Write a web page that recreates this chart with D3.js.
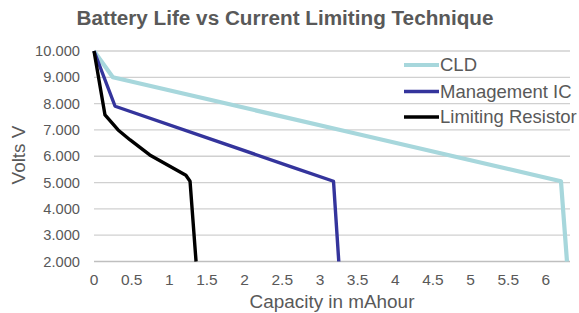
<!DOCTYPE html>
<html>
<head>
<meta charset="utf-8">
<script src="https://cdn.jsdelivr.net/npm/d3@7"></script>
<style>
  body { margin: 0; background: #fff; }
  svg { display: block; font-family: "Liberation Sans", Arial, sans-serif; }
</style>
</head>
<body>
<svg id="chart" width="579" height="313"></svg>
<script>
const seriesNames = ["CLD", "Management IC", "Limiting Resistor"];
const seriesColors = ["#A7D7DC", "#34349C", "#000000"];
const cldX = [0, 0.25, 3.27, 6.2, 6.28];
const cldY = [10, 9.0, 7.0, 5.05, 2.0];
const icX = [0, 0.28, 2.64, 3.18, 3.25];
const icY = [10, 7.9, 5.58, 5.05, 2.0];
const resX = [0, 0.146, 0.32, 0.48, 0.74, 1.22, 1.275, 1.355];
const resY = [10, 7.57, 7.0, 6.62, 6.05, 5.28, 5.05, 2.0];
const yTicks = [2, 3, 4, 5, 6, 7, 8, 9, 10];
const xTicks = [0, 0.5, 1, 1.5, 2, 2.5, 3, 3.5, 4, 4.5, 5, 5.5, 6];
const xMax = 6.32;
const titleText = "Battery Life vs Current Limiting Technique";
const xTitle = "Capacity in mAhour";
const yTitle = "Volts V";

const svg = d3.select("#chart");
const pLeft = 94, pRight = 570, pTop = 51, pBottom = 261.5;
const x = d3.scaleLinear().domain([0, xMax]).range([pLeft, pRight]);
const y = d3.scaleLinear().domain([2, 10]).range([pBottom, pTop]);
const textColor = "#595959";

// gridlines
svg.append("g").selectAll("line").data(yTicks.filter(d => d !== 2)).join("line")
  .attr("x1", pLeft).attr("x2", pRight)
  .attr("y1", d => y(d)).attr("y2", d => y(d))
  .attr("stroke", "#D0D0D0").attr("stroke-width", 1.3);

// x axis line
svg.append("line").attr("x1", pLeft).attr("x2", pRight)
  .attr("y1", y(2)).attr("y2", y(2))
  .attr("stroke", "#BFBFBF").attr("stroke-width", 1.3);

// y tick labels
svg.append("g").selectAll("text").data(yTicks).join("text")
  .attr("x", 80).attr("y", d => y(d)).attr("dy", "0.35em")
  .attr("text-anchor", "end").attr("font-size", 14.7).attr("fill", textColor)
  .text(d => d3.format(".3f")(d));

// x tick labels
svg.append("g").selectAll("text").data(xTicks).join("text")
  .attr("x", d => x(d)).attr("y", 280).attr("dy", "0.35em")
  .attr("text-anchor", "middle").attr("font-size", 15.5).attr("fill", textColor)
  .text(d => String(d));

// series
const series = [
  {xs: cldX, ys: cldY, w: 4.2},
  {xs: icX, ys: icY, w: 3.4},
  {xs: resX, ys: resY, w: 3.4}
];
const line = d3.line().x(d => x(d[0])).y(d => y(d[1]));
series.forEach((s, i) => {
  const pts = s.xs.map((v, j) => [v, s.ys[j]]);
  svg.append("path").datum(pts).attr("d", line)
    .attr("fill", "none").attr("stroke", seriesColors[i])
    .attr("stroke-width", s.w).attr("stroke-linejoin", "round");
});

// legend
const legY = [65, 91.5, 117];
const leg = svg.append("g");
seriesNames.forEach((n, i) => {
  leg.append("line").attr("x1", 404).attr("x2", 439)
    .attr("y1", legY[i]).attr("y2", legY[i])
    .attr("stroke", seriesColors[i]).attr("stroke-width", i === 0 ? 4 : 3.4);
  leg.append("text").attr("x", 440).attr("y", legY[i]).attr("dy", "0.35em")
    .attr("font-size", 18.5).attr("fill", textColor).text(n);
});

// titles
svg.append("text").attr("x", 285).attr("y", 18).attr("dy", "0.35em")
  .attr("text-anchor", "middle").attr("font-size", 20.7).attr("font-weight", "bold")
  .attr("fill", textColor).text(titleText);
svg.append("text").attr("x", 332).attr("y", 301).attr("dy", "0.35em")
  .attr("text-anchor", "middle").attr("font-size", 18.9)
  .attr("fill", textColor).text(xTitle);
svg.append("text").attr("transform", "translate(18,155) rotate(-90)").attr("dy", "0.35em")
  .attr("text-anchor", "middle").attr("font-size", 18.9)
  .attr("fill", textColor).text(yTitle);
</script>
</body>
</html>
